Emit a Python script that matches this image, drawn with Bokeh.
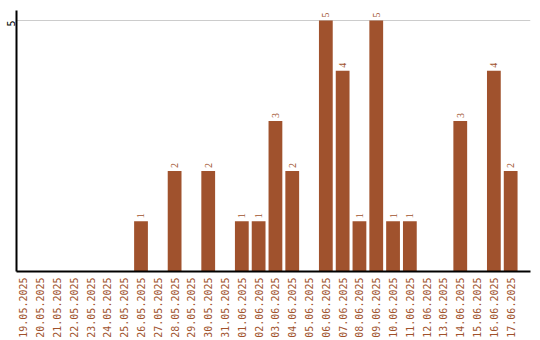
import math
from bokeh.plotting import figure
from bokeh.models import ColumnDataSource, Range1d, FixedTicker, LabelSet
from bokeh.embed import file_html
from bokeh.resources import INLINE

dates = ["19.05.2025", "20.05.2025", "21.05.2025", "22.05.2025", "23.05.2025",
         "24.05.2025", "25.05.2025", "26.05.2025", "27.05.2025", "28.05.2025",
         "29.05.2025", "30.05.2025", "31.05.2025", "01.06.2025", "02.06.2025",
         "03.06.2025", "04.06.2025", "05.06.2025", "06.06.2025", "07.06.2025",
         "08.06.2025", "09.06.2025", "10.06.2025", "11.06.2025", "12.06.2025",
         "13.06.2025", "14.06.2025", "15.06.2025", "16.06.2025", "17.06.2025"]
counts = [0, 0, 0, 0, 0, 0, 0, 1, 0, 2, 0, 2, 0, 1, 1, 3, 2, 0, 5, 4, 1, 5, 1, 1, 0, 0, 3, 0, 4, 2]
y_ticks = [5]

BROWN = "#A0522D"
FONT = "DejaVu Sans Mono"

idx = list(range(len(dates)))
nz = [i for i in idx if counts[i] > 0]
src = ColumnDataSource(dict(x=idx, top=counts))
lab = ColumnDataSource(dict(x=nz, y=[counts[i] for i in nz], t=[str(counts[i]) for i in nz]))

p = figure(width=540, height=340, output_backend="svg", toolbar_location=None,
           x_range=Range1d(-0.41, 30.18), y_range=Range1d(0, 5.2),
           min_border_left=0, min_border_right=10, min_border_top=10, min_border_bottom=0)
p.outline_line_color = None
p.background_fill_color = "white"

p.vbar(x="x", top="top", width=0.82, bottom=0, source=src, fill_color=BROWN, line_color=None)

labels = LabelSet(x="x", y="y", text="t", source=lab, angle=math.pi / 2, y_offset=3,
                  text_align="left", text_baseline="middle", text_color=BROWN,
                  text_font=FONT, text_font_size="10px")
p.add_layout(labels)

p.xaxis.ticker = FixedTicker(ticks=idx)
p.xaxis.major_label_overrides = {i: d for i, d in zip(idx, dates)}
p.xaxis.major_label_orientation = math.pi / 2
p.xaxis.major_label_text_color = BROWN
p.xaxis.major_label_text_font = FONT
p.xaxis.major_label_text_font_size = "10px"
p.xaxis.major_tick_line_color = None
p.xaxis.minor_tick_line_color = None
p.xaxis.major_tick_out = 0
p.xaxis.major_tick_in = 0
p.xaxis.major_label_standoff = 6
p.xaxis.axis_line_color = "black"
p.xaxis.axis_line_width = 2

p.yaxis.ticker = FixedTicker(ticks=y_ticks)
p.yaxis.major_label_orientation = math.pi / 2
p.yaxis.major_label_text_color = "black"
p.yaxis.major_label_text_font = FONT
p.yaxis.major_label_text_font_size = "10px"
p.yaxis.major_tick_line_color = None
p.yaxis.minor_tick_line_color = None
p.yaxis.major_tick_out = 0
p.yaxis.major_tick_in = 0
p.yaxis.major_label_standoff = 5
p.yaxis.axis_line_color = "black"
p.yaxis.axis_line_width = 2

p.xgrid.grid_line_color = None
p.ygrid.ticker = FixedTicker(ticks=y_ticks)
p.ygrid.grid_line_color = "#cccccc"

open("out.html", "w").write(file_html(p, INLINE))
